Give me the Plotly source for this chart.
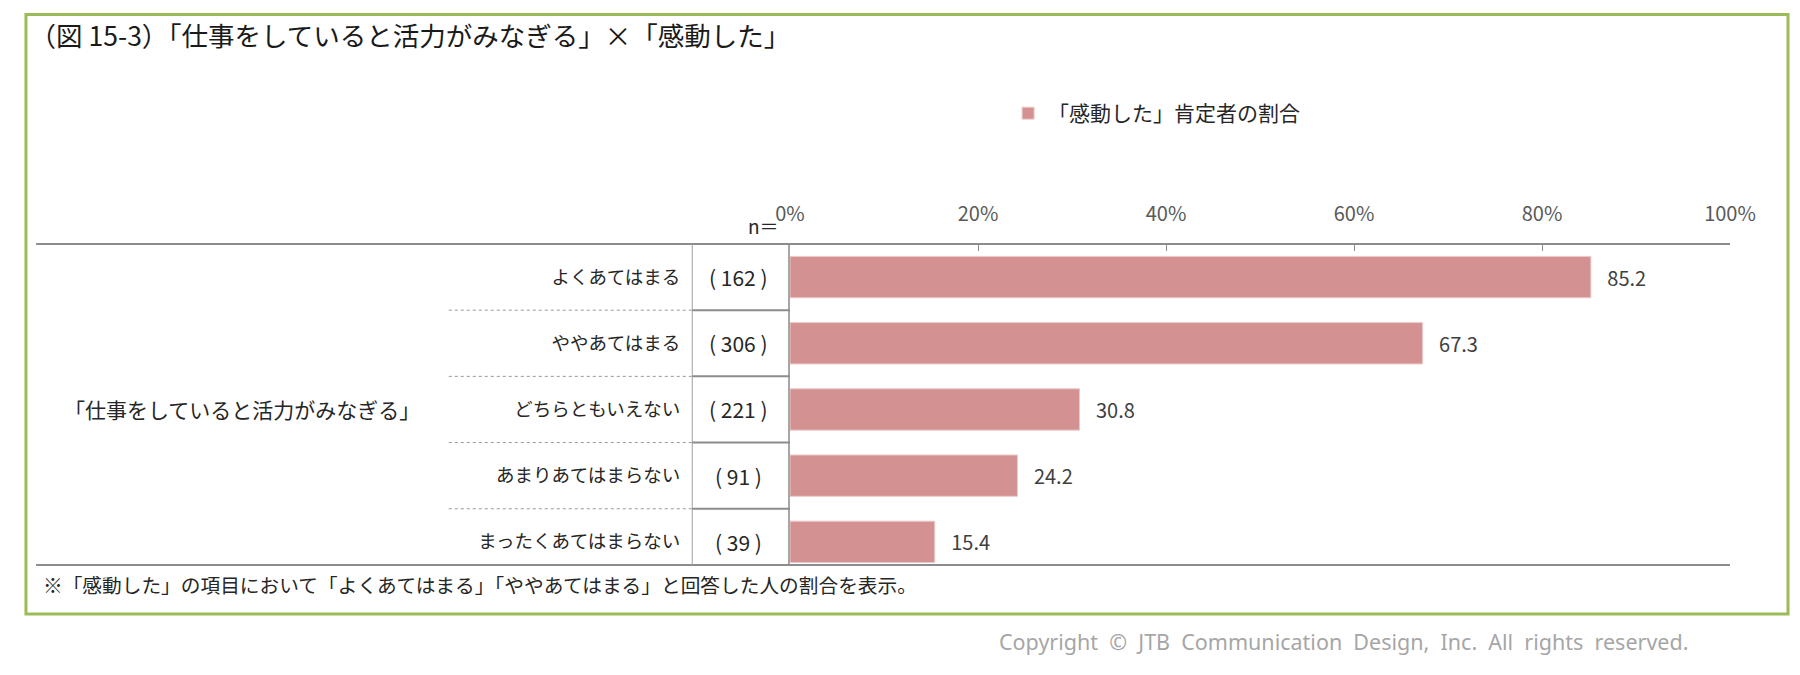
import plotly.graph_objects as go

# data
categories = ["よくあてはまる", "ややあてはまる", "どちらともいえない",
              "あまりあてはまらない", "まったくあてはまらない"]
n_counts = [162, 306, 221, 91, 39]
values = [85.2, 67.3, 30.8, 24.2, 15.4]
tick_vals = [0, 20, 40, 60, 80, 100]
tick_text = ["0%", "20%", "40%", "60%", "80%", "100%"]

series_name = "「感動した」肯定者の割合"
group_label = "「仕事をしていると活力がみなぎる」"
title_text = "（図 15-3）「仕事をしていると活力がみなぎる」×「感動した」"
note_text = "※「感動した」の項目において「よくあてはまる」「ややあてはまる」と回答した人の割合を表示。"
copyright_text = "Copyright © JTB Communication Design, Inc. All rights reserved."

FONT = "Noto Sans CJK JP"
BAR = "#d39291"
LINE = "#8c8c8c"

fig = go.Figure()

fig.add_trace(go.Bar(
    x=values,
    y=categories,
    orientation="h",
    name=series_name,
    marker=dict(color=BAR, line=dict(color="#eccaca", width=1)),
    text=[f"\u00a0\u00a0\u00a0{v:.1f}" for v in values],
    textposition="outside",
    constraintext="none",
    cliponaxis=False,
    textfont=dict(family=FONT, size=20, color="#404040"),
    hovertemplate="%{y}<br>%{x:.1f}%<extra></extra>",
))

# n= column
for cat, n in zip(categories, n_counts):
    fig.add_annotation(x=-0.055, xref="paper", y=cat, yref="y",
                       text=f"(\u00a0{n}\u00a0)", showarrow=False, xanchor="center",
                       font=dict(family=FONT, size=21, color="#262626"))

fig.add_annotation(x=-0.0096, xref="paper", y=1.058, yref="paper",
                   text="n＝", showarrow=False, xanchor="right", yanchor="middle",
                   font=dict(family=FONT, size=19, color="#262626"))

fig.add_annotation(x=-0.5825, xref="paper", y=categories[2], yref="y",
                   text=group_label, showarrow=False, xanchor="center",
                   font=dict(family=FONT, size=21, color="#262626"))

fig.add_annotation(x=-0.797, xref="paper", y=-0.0623, yref="paper",
                   text=note_text, showarrow=False, xanchor="left", yanchor="middle",
                   font=dict(family=FONT, size=19.7, color="#262626"))

fig.add_annotation(x=0.5885, xref="paper", y=-0.2368, yref="paper",
                   text=copyright_text.replace(" ", " \u00a0"), showarrow=False,
                   xanchor="center", yanchor="middle",
                   font=dict(family="Noto Sans", size=21.5, color="#a6a6a6"))

# table lines
fig.add_shape(type="line", xref="paper", yref="paper", x0=-0.802, x1=1, y0=1, y1=1,
              line=dict(color=LINE, width=2))
fig.add_shape(type="line", xref="paper", yref="paper", x0=-0.802, x1=1, y0=0, y1=0,
              line=dict(color=LINE, width=2))
fig.add_shape(type="line", xref="paper", yref="paper", x0=-0.104, x1=-0.104, y0=0, y1=1,
              line=dict(color="#a0a0a0", width=1))
for i in range(len(categories) - 1):
    fig.add_shape(type="line", xref="paper", yref="y", x0=-0.363, x1=-0.104,
                  y0=i + 0.5, y1=i + 0.5, line=dict(color="#9a9a9a", width=1, dash="dot"))
    fig.add_shape(type="line", xref="paper", yref="y", x0=-0.104, x1=0,
                  y0=i + 0.5, y1=i + 0.5, line=dict(color=LINE, width=2))

# green frame
fig.add_shape(type="rect", xref="paper", yref="paper", x0=-0.8128, x1=1.0617,
              y0=-0.1526, y1=1.715, line=dict(color="#9bbb59", width=3), layer="below")

fig.update_layout(
    width=1800, height=675,
    margin=dict(l=782, r=78, t=236, b=118),
    paper_bgcolor="white", plot_bgcolor="white",
    font=dict(family=FONT, color="#262626"),
    title=dict(text=title_text, xref="container", x=0.012, y=0.957,
               xanchor="left", yanchor="middle",
               font=dict(family=FONT, size=26.5, color="#1a1a1a")),
    bargap=0.375,
    showlegend=True,
    legend=dict(x=0.232, y=1.4065, xanchor="left", yanchor="middle",
                orientation="h", bgcolor="rgba(0,0,0,0)",
                font=dict(family=FONT, size=21, color="#262626")),
)

fig.update_xaxes(
    side="top", range=[0, 100], tickvals=tick_vals, ticktext=tick_text,
    ticks="inside", ticklen=7, tickwidth=1, tickcolor=LINE,
    showgrid=False, zeroline=False, showline=False,
    ticklabelstandoff=18,
    tickfont=dict(family=FONT, size=20, color="#595959"),
)
fig.update_yaxes(
    range=[4.35, -0.5], showgrid=False, zeroline=False,
    showline=True, linecolor="#a6a6a6", linewidth=2,
    ticks="", ticklabelstandoff=104,
    tickfont=dict(family=FONT, size=18.5, color="#262626"),
)

fig.write_html("out.html")
